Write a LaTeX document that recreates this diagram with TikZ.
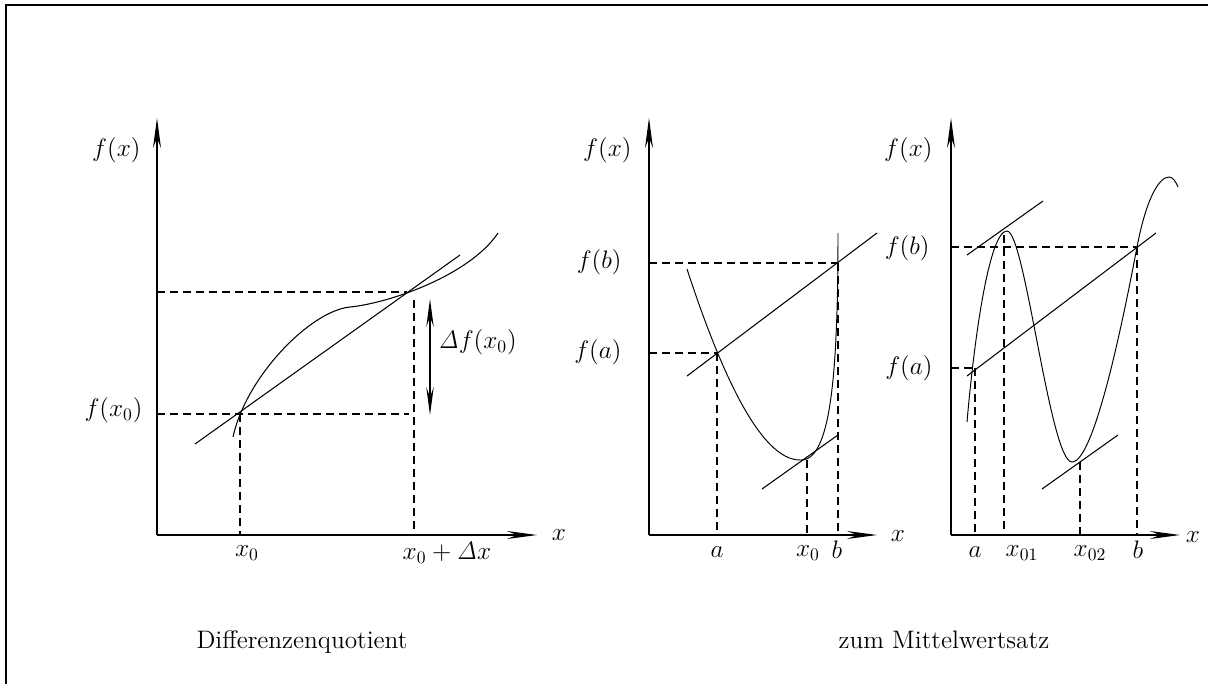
\documentclass[tikz,border=0pt]{standalone}
\usetikzlibrary{arrows.meta}
\begin{document}
\begin{tikzpicture}[x=0.02cm,y=-0.02cm,line width=0.6pt,
  axis/.style={-{Stealth[length=0.6cm,width=0.16cm,inset=0.2cm]}},
  dblarrow/.style={line width=0.9pt,{Stealth[length=0.56cm,width=0.15cm,inset=0.2cm]}-{Stealth[length=0.56cm,width=0.15cm,inset=0.2cm]}},
  guide/.style={dash pattern=on 4.6pt off 2.8pt},
  curvethin/.style={line width=0.55pt},
  lbl/.style={inner sep=0pt,font=\fontsize{14.4}{17}\selectfont},
  captiontext/.style={inner sep=0pt,font=\fontsize{14.4}{17}\selectfont},
  frameline/.style={line width=1pt}]
\useasboundingbox (0,0) rectangle (1208,684);
% frame
\coordinate (FC) at (6,5);
\coordinate (FR) at (1208,5);
\coordinate (FB) at (6,684);
\draw[frameline] (FR) -- (FC) -- (FB);

% ---------------- left plot ----------------
\coordinate (O1) at (157,535);
\coordinate (Y1) at (157,118);
\coordinate (X1) at (537,535);
\draw[axis] (O1) -- (Y1);
\draw[axis] (O1) -- (X1);
\node[lbl,anchor=east] (fx1) at (141,150) {$f(x)$};
\node[lbl] (xl1) at (559,535) {$x$};
\node[lbl,anchor=east] (fx0) at (143,410) {$f(x_0)$};
\node[lbl] (lx0) at (247,553) {$x_0$};
\node[lbl] (lx0dx) at (447,553) {$x_0+\mathit{\Delta} x$};
\node[lbl,anchor=west] (ldf) at (438,342) {$\mathit{\Delta} f(x_0)$};
\coordinate (L1a) at (157,292);
\coordinate (L1b) at (407,292);
\coordinate (L2a) at (157,414);
\coordinate (L2b) at (409,414);
\coordinate (V1a) at (240,414);
\coordinate (V1b) at (240,535);
\coordinate (V2a) at (414,300);
\coordinate (V2b) at (414,535);
\draw[guide] (L1a) -- (L1b);
\draw[guide] (L2a) -- (L2b);
\draw[guide] (V1a) -- (V1b);
\draw[guide] (V2a) -- (V2b);
\coordinate (S1a) at (195,444);
\coordinate (S1b) at (460,255);
\draw (S1a) -- (S1b);
\coordinate (C1s) at (233,437);
\coordinate (C1m) at (350,307);
\coordinate (C1e) at (498,233);
\draw (C1s) .. controls (246,377) and (310,311) .. (C1m)
      .. controls (390,303) and (470,275) .. (C1e);
\coordinate (DA) at (430,299);
\coordinate (DB) at (430,415);
\draw[dblarrow] (DA) -- (DB);

% ---------------- middle plot ----------------
\coordinate (O2) at (649,535);
\coordinate (Y2) at (649,118);
\coordinate (X2) at (877,535);
\draw[axis] (O2) -- (Y2);
\draw[axis] (O2) -- (X2);
\node[lbl,anchor=east] (fx2) at (632,150) {$f(x)$};
\node[lbl] (xl2) at (898,536) {$x$};
\node[lbl,anchor=east] (fb2) at (622,262) {$f(b)$};
\node[lbl,anchor=east] (fa2) at (622,352) {$f(a)$};
\node[lbl] (la2) at (717,552) {$a$};
\node[lbl] (lx02) at (808,553) {$x_0$};
\node[lbl] (lb2) at (837,550) {$b$};
\coordinate (M1a) at (649,263);
\coordinate (M1b) at (838,263);
\coordinate (M2a) at (649,353);
\coordinate (M2b) at (718,353);
\coordinate (MV1a) at (717,353);
\coordinate (MV1b) at (717,535);
\coordinate (MV2a) at (807,460);
\coordinate (MV2b) at (807,535);
\coordinate (MV3a) at (838,263);
\coordinate (MV3b) at (838,535);
\draw[guide] (M1a) -- (M1b);
\draw[guide] (M2a) -- (M2b);
\draw[guide] (MV1a) -- (MV1b);
\draw[guide] (MV2a) -- (MV2b);
\draw[guide] (MV3a) -- (MV3b);
\coordinate (C2s) at (687,269);
\coordinate (C2m) at (800,460);
\coordinate (C2e) at (838,233);
\draw[curvethin] (C2s) .. controls (720,370) and (760,460) .. (C2m)
      .. controls (830,462) and (838,380) .. (C2e);
\coordinate (MSa) at (687,376);
\coordinate (MSb) at (877,233);
\draw (MSa) -- (MSb);
\coordinate (MTa) at (762,489);
\coordinate (MTb) at (838,435);
\draw (MTa) -- (MTb);

% ---------------- right plot ----------------
\coordinate (O3) at (951,535);
\coordinate (Y3) at (951,118);
\coordinate (X3) at (1180,535);
\draw[axis] (O3) -- (Y3);
\draw[axis] (O3) -- (X3);
\node[lbl,anchor=east] (fx3) at (933,150) {$f(x)$};
\node[lbl] (xl3) at (1193,537) {$x$};
\node[lbl,anchor=east] (fb3) at (930,248) {$f(b)$};
\node[lbl,anchor=east] (fa3) at (933,368) {$f(a)$};
\node[lbl] (la3) at (975,552) {$a$};
\node[lbl] (lx013) at (1022,553) {$x_{01}$};
\node[lbl] (lx023) at (1090,553) {$x_{02}$};
\node[lbl] (lb3) at (1138,550) {$b$};
\coordinate (R1a) at (951,247);
\coordinate (R1b) at (1137,247);
\coordinate (R2a) at (951,368);
\coordinate (R2b) at (973,368);
\coordinate (RV1a) at (975,368);
\coordinate (RV1b) at (975,535);
\coordinate (RV2a) at (1004,235);
\coordinate (RV2b) at (1004,535);
\coordinate (RV3a) at (1080,462);
\coordinate (RV3b) at (1080,535);
\coordinate (RV4a) at (1137,247);
\coordinate (RV4b) at (1137,535);
\draw[guide] (R1a) -- (R1b);
\draw[guide] (R2a) -- (R2b);
\draw[guide] (RV1a) -- (RV1b);
\draw[guide] (RV2a) -- (RV2b);
\draw[guide] (RV3a) -- (RV3b);
\draw[guide] (RV4a) -- (RV4b);
\coordinate (C3s) at (967,422);
\coordinate (C3p) at (1007,231);
\coordinate (C3t) at (1072,462);
\coordinate (C3b) at (1137,247);
\coordinate (C3q) at (1169,177);
\coordinate (C3e) at (1178,187);
\draw[curvethin] (C3s) .. controls (975,330) and (990,231) .. (C3p)
      .. controls (1025,231) and (1050,462) .. (C3t)
      .. controls (1095,462) and (1125,310) .. (C3b)
      .. controls (1147,195) and (1160,177) .. (C3q)
      .. controls (1173,177) and (1176,182) .. (C3e);
\coordinate (RTa) at (967,255);
\coordinate (RTb) at (1043,201);
\draw (RTa) -- (RTb);
\coordinate (RSa) at (967,376);
\coordinate (RSb) at (1156,233);
\draw (RSa) -- (RSb);
\coordinate (RUa) at (1042,489);
\coordinate (RUb) at (1118,435);
\draw (RUa) -- (RUb);

% captions
\node[captiontext,anchor=base west] (cap1) at (196,648) {Differenzenquotient};
\node[captiontext,anchor=base west] (cap2) at (838,648) {zum Mittelwertsatz};
\end{tikzpicture}
\end{document}
